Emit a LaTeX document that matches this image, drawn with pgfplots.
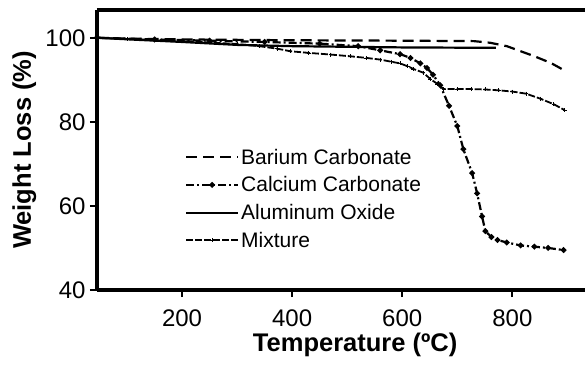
\documentclass[border=0pt]{standalone}
\usepackage{pgfplots}
\pgfplotsset{compat=1.18}
\usepackage{fontspec}
\setmainfont{Liberation Sans}
\begin{document}
\begin{tikzpicture}
\begin{axis}[
  at={(0pt,0pt)}, anchor=south west,
  scale only axis, width=488pt, height=280pt,
  xmin=45.5, xmax=932, ymin=40, ymax=106.6,
  axis x line=box, axis y line=left,
  axis line style={-, line width=3.4pt},
  every outer x axis line/.append style={-, line width=3.4pt},
  every outer y axis line/.append style={-, line width=3.4pt},
  every inner x axis line/.append style={-, line width=3.4pt},
  xtick={200,400,600,800}, ytick={40,60,80,100},
  xtick pos=bottom, ytick pos=left,
  tick align=outside,
  major tick length=7pt,
  tick style={line width=1.8pt, black},
  /pgf/number format/assume math mode=true,
  ticklabel style={font=\fontsize{24}{28}\selectfont},
  xticklabel style={yshift=-9pt},
  yticklabel style={xshift=-1pt},
  xlabel={\textbf{Temperature (ºC)}},
  ylabel={\textbf{Weight Loss (\%)}},
  xlabel style={font=\fontsize{25.5}{30}\selectfont, at={(axis description cs:0.529,-0.195)}, anchor=center},
  ylabel style={font=\fontsize{25.5}{30}\selectfont, at={(axis description cs:-0.149,0.5)}, anchor=center, rotate=0},
  legend style={draw=none, fill=none, at={(axis description cs:0.18,0.512)}, anchor=north west,
     font=\fontsize{21}{25}\selectfont, row sep=7pt, inner sep=0pt},
  legend cell align=left,
  legend image code/.code={\draw[mark repeat=2,mark phase=2] plot coordinates {(0pt,0pt) (26pt,0pt) (52pt,0pt)};},
  clip=false,
]
\addplot[black, line width=2.2pt, dash pattern=on 11pt off 6pt] coordinates {
(45,100)(100,99.8)(200,99.6)(400,99.4)(600,99.3)(730,99.2)(760,98.8)(790,98)(815,96.8)(840,95.6)(870,94)(895,92.2)};
\addlegendentry{Barium Carbonate}
\addplot[black, line width=2.2pt, dash pattern=on 8pt off 3pt on 2pt off 3pt, mark=*, mark size=1.6pt, mark options={solid}] coordinates {
(45,100)(150,99.6)(250,99.3)(350,99)(450,98.6)(520,98)(560,97)(596,96.1)(615,95.2)(633,93.9)(645,92.8)(656,91.2)(669,88.7)(685,83.8)(700,79)(711,73.5)(727,67.8)(736,63)(745,57.5)(751,54)(762,52.6)(773,51.9)(790,51.3)(815,50.6)(840,50.3)(865,50)(893,49.5)};
\addlegendentry{Calcium Carbonate}
\addplot[black, line width=2.2pt] coordinates {
(45,100)(120,99.5)(200,99)(300,98.3)(400,98)(600,97.7)(770,97.6)};
\addlegendentry{Aluminum Oxide}
\addplot[black, line width=1.8pt, dash pattern=on 7pt off 2pt, mark=+, mark size=2pt, mark options={solid, line width=0.6pt}] coordinates {
(45,100)(100,99.7)(150,99.5)(200,99.2)(250,98.9)(300,98.5)(340,98)(373,97.4)(396,96.8)(430,96.4)(470,96)(505,95.6)(535,95.2)(560,94.8)(580,94.3)(596,93.9)(610,93.2)(620,92.6)(638,91.7)(651,90.2)(664,89)(675,87.8)(700,87.8)(725,87.8)(750,87.7)(775,87.5)(800,87.2)(825,86.7)(851,85.5)(875,84.2)(895,82.8)};
\addlegendentry{Mixture}
\end{axis}
\pgfresetboundingbox
\useasboundingbox (-97pt,-75pt) rectangle (488pt,290pt);
\end{tikzpicture}
\end{document}
